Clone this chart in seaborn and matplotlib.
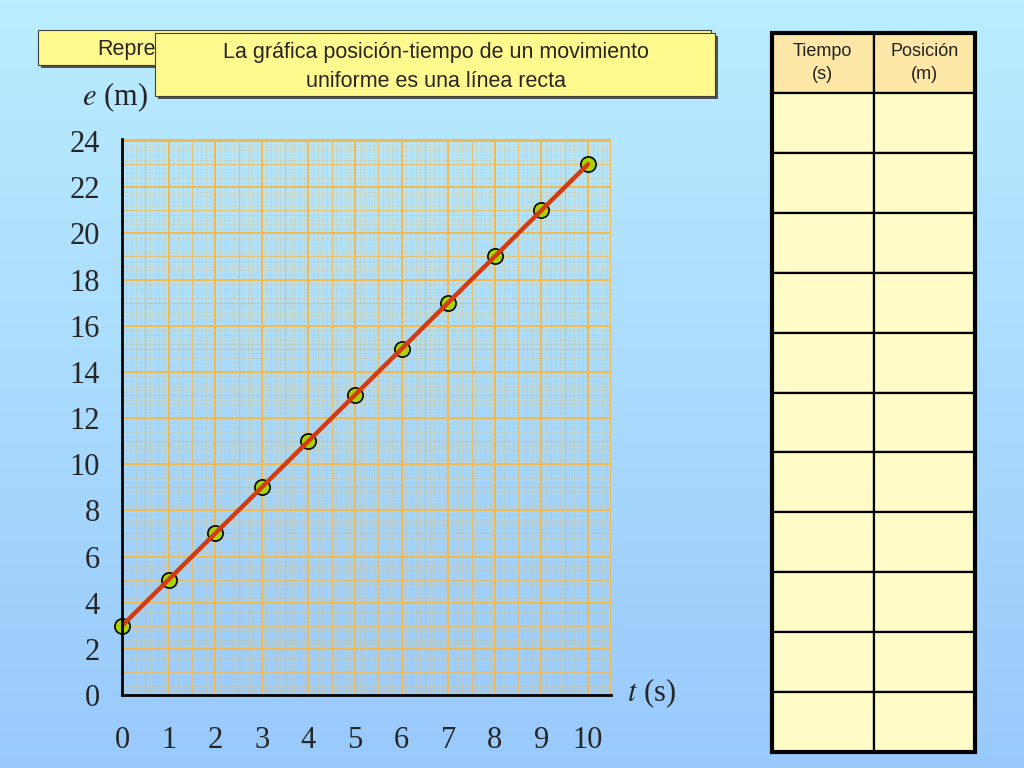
import numpy as np
import pandas as pd
import matplotlib
matplotlib.use("Agg")
import matplotlib.pyplot as plt
from matplotlib.patches import Rectangle
import seaborn as sns

# data
tiempo = [0, 1, 2, 3, 4, 5, 6, 7, 8, 9, 10]
posicion = [3, 5, 7, 9, 11, 13, 15, 17, 19, 21, 23]
x_ticks = [0, 1, 2, 3, 4, 5, 6, 7, 8, 9, 10]
y_ticks = [0, 2, 4, 6, 8, 10, 12, 14, 16, 18, 20, 22, 24]
titulo_atras = "Repre"  # the rest is hidden behind the front box
titulo = "La gráfica posición-tiempo de un movimiento\nuniforme es una línea recta"
tabla_cols = ["Tiempo\n(s)", "Posición\n(m)"]
n_filas = len(tiempo)

sns.set_style("white")
plt.rcParams['font.family'] = ['Liberation Sans', 'DejaVu Sans']

df = pd.DataFrame({'t': tiempo, 'e': posicion})

W, H = 1024, 768
fig = plt.figure(figsize=(W / 100, H / 100), dpi=100)

# background gradient
bg = fig.add_axes([0, 0, 1, 1], zorder=-10)
grad = np.linspace(0, 1, 256).reshape(-1, 1)
top = np.array([0.73, 0.93, 1.0])
bot = np.array([0.60, 0.79, 0.99])
img = top[None, None, :] * (1 - grad[:, :, None]) + bot[None, None, :] * grad[:, :, None]
bg.imshow(img, aspect='auto', extent=[0, 1, 0, 1])
bg.axis('off')


def fx(px):
    return px / W


def fy(py):
    return 1 - py / H


# main plot
x_max = 489 / 46.6
y_max = 556 / 23.08
ax = fig.add_axes([fx(122), fy(695), fx(611) - fx(122), fy(139) - fy(695)])
ax.set_facecolor('none')
ax.set_xlim(0, x_max)
ax.set_ylim(0, y_max)

# graph paper
grid_c = '#f5b94a'
ax.vlines(np.arange(0, x_max, 0.1), 0, y_max, color=grid_c, lw=0.5, alpha=0.35, zorder=0)
ax.hlines(np.arange(0, y_max, 0.2), 0, x_max, color=grid_c, lw=0.5, alpha=0.35, zorder=0)
ax.vlines(np.arange(0.5, x_max, 1), 0, y_max, color=grid_c, lw=0.9, alpha=0.7, zorder=0)
ax.hlines(np.arange(1, y_max, 2), 0, x_max, color=grid_c, lw=0.9, alpha=0.7, zorder=0)
ax.vlines(np.arange(1, x_max, 1), 0, y_max, color=grid_c, lw=1.4, zorder=0)
ax.hlines(np.arange(2, y_max, 2), 0, x_max, color=grid_c, lw=1.4, zorder=0)
ax.hlines([y_max], 0, x_max, color=grid_c, lw=2, zorder=0)
ax.vlines([x_max], 0, y_max, color=grid_c, lw=2, zorder=0)

sns.scatterplot(data=df, x='t', y='e', ax=ax, s=120, color='#a8d400',
                edgecolor='black', linewidth=1.2, zorder=3, clip_on=False)
sns.lineplot(data=df, x='t', y='e', ax=ax, color='#d23c10', lw=3.2, zorder=4)

for s in ['top', 'right']:
    ax.spines[s].set_visible(False)
for s in ['left', 'bottom']:
    ax.spines[s].set_color('black')
    ax.spines[s].set_linewidth(2)
    ax.spines[s].set_zorder(5)

ax.set_xticks(x_ticks)
ax.set_yticks(y_ticks)
ax.tick_params(axis='y', direction='out', length=8, width=2, pad=8,
               labelsize=22, labelfontfamily='Liberation Serif')
ax.tick_params(axis='x', direction='out', length=11, width=2, pad=11,
               labelsize=22, labelfontfamily='Liberation Serif')
ax.set_xlabel('')
ax.set_ylabel('')

fig.text(fx(115), fy(97), r'$\mathit{e}$ (m)', fontsize=22, family='Liberation Serif',
         ha='center', va='center', math_fontfamily='stix')
fig.text(fx(651), fy(693), r'$\mathit{t}$ (s)', fontsize=22, family='Liberation Serif',
         ha='center', va='center', math_fontfamily='stix')

# title boxes
box_c = '#fff98e'


def caja(x0, y0, x1, y1, z):
    sh = Rectangle((fx(x0 + 3), fy(y1 + 3)), fx(x1) - fx(x0), fy(y0) - fy(y1),
                   transform=fig.transFigure, facecolor='#505050', edgecolor='none', zorder=z)
    r = Rectangle((fx(x0), fy(y1)), fx(x1) - fx(x0), fy(y0) - fy(y1),
                  transform=fig.transFigure, facecolor=box_c, edgecolor='#404040', lw=0.8, zorder=z + 0.1)
    fig.add_artist(sh)
    fig.add_artist(r)


caja(38, 30, 711, 65, 10)
fig.text(fx(97), fy(49), titulo_atras, fontsize=15.5, ha='left', va='center', zorder=10.5)
caja(155, 33, 715, 96, 11)
fig.text(fx(436), fy(67), titulo, fontsize=15.5, ha='center', va='center',
         linespacing=1.5, zorder=11.5)

# table
tax = fig.add_axes([fx(772), fy(752), fx(975) - fx(772), fy(33) - fy(752)])
tax.axis('off')
cells = [['', ''] for _ in range(n_filas)]
tbl = tax.table(cellText=cells, colLabels=tabla_cols, bbox=[0, 0, 1, 1], cellLoc='center')
tbl.auto_set_font_size(False)
for (r, c), cell in tbl.get_celld().items():
    cell.set_edgecolor('black')
    cell.set_linewidth(1.6)
    if r == 0:
        cell.set_facecolor('#fde7a6')
        cell.get_text().set_fontsize(13)
        cell.get_text().set_linespacing(1.45)
        cell.get_text().set_color('#222222')
    else:
        cell.set_facecolor('#fffcc8')
tax.add_patch(Rectangle((0, 0), 1, 1, transform=tax.transAxes, fill=False,
                        edgecolor='black', lw=3, clip_on=False, zorder=5))

fig.savefig('out.png', dpi=100)
